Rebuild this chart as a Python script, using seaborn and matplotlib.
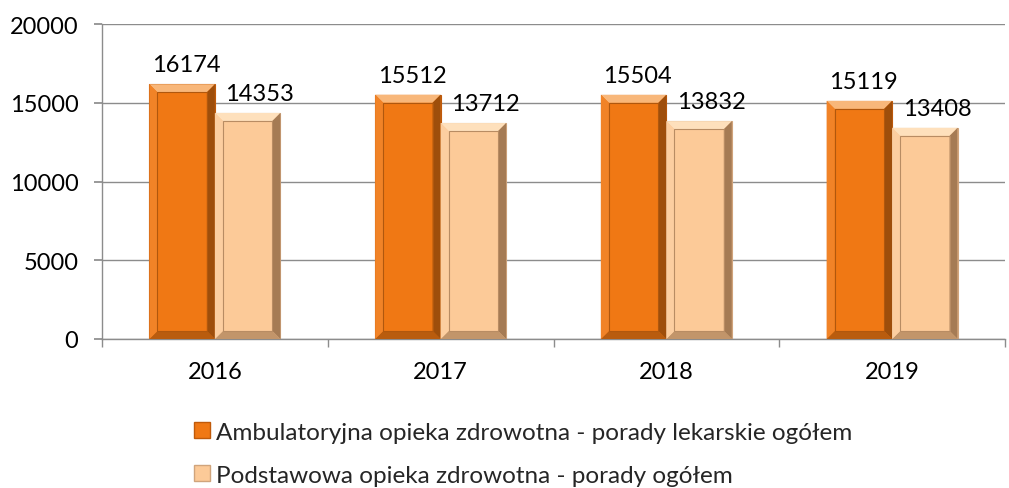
import pandas as pd
import matplotlib
matplotlib.use("Agg")
import matplotlib.pyplot as plt
from matplotlib.patches import Polygon, Patch
from matplotlib.colors import to_rgb
import seaborn as sns

years = ["2016", "2017", "2018", "2019"]
ambulatoryjna = [16174, 15512, 15504, 15119]
podstawowa = [14353, 13712, 13832, 13408]
series_names = ["Ambulatoryjna opieka zdrowotna - porady lekarskie ogółem",
                "Podstawowa opieka zdrowotna - porady ogółem"]
colors = ["#F07814", "#FCCA98"]
edges = ["#C05A0A", "#D0A47C"]

df = pd.DataFrame({
    "rok": years * 2,
    "wartosc": ambulatoryjna + podstawowa,
    "seria": [series_names[0]] * len(years) + [series_names[1]] * len(years),
})


def mix(c, other, t):
    c = to_rgb(c)
    o = to_rgb(other)
    return tuple(a * (1 - t) + b * t for a, b in zip(c, o))


def add_bevel(ax, patch, base, d=8):
    # bevel facets, computed from the bar's own geometry
    (x0, y0), (x1, y1) = ax.transData.transform(
        [(patch.get_x(), patch.get_y()),
         (patch.get_x() + patch.get_width(), patch.get_y() + patch.get_height())])
    inv = ax.transData.inverted()
    outer = [(x0, y0), (x1, y0), (x1, y1), (x0, y1)]
    inner = [(x0 + d, y0 + d), (x1 - d, y0 + d), (x1 - d, y1 - d), (x0 + d, y1 - d)]
    facets = [
        ([outer[3], outer[2], inner[2], inner[3]], mix(base, "#FFF6E0", 0.5)),  # top
        ([outer[0], outer[1], inner[1], inner[0]], mix(base, "#3a1a00", 0.3)),  # bottom
        ([outer[0], outer[3], inner[3], inner[0]], mix(base, "white", 0.08)),  # left
        ([outer[1], outer[2], inner[2], inner[1]], mix(base, "#3a1a00", 0.45)),  # right
    ]
    for pts, col in facets:
        ax.add_patch(Polygon(inv.transform(pts), closed=True, facecolor=col,
                             edgecolor="none", zorder=3))
    ax.add_patch(Polygon(inv.transform(inner), closed=True, facecolor="none",
                         edgecolor=mix(base, "#3a1a00", 0.35), linewidth=0.8, zorder=3))


sns.set_theme(style="white")
plt.rcParams["font.family"] = ["Lato", "DejaVu Sans"]

fig = plt.figure(figsize=(10.09, 4.89), dpi=100)
ax = fig.add_axes([102 / 1009, 1 - 340 / 489, (1005 - 102) / 1009, 315 / 489])

sns.barplot(data=df, x="rok", y="wartosc", hue="seria", palette=colors,
            saturation=1, width=0.58, ax=ax, legend=False, zorder=2)

ax.set_ylim(0, 20000)
ax.set_xlim(-0.5, len(years) - 0.5)
ax.set_yticks(range(0, 20001, 5000))
ax.yaxis.grid(True, color="#8C8C8C", linewidth=1)
ax.set_axisbelow(True)
ax.set_xlabel("")
ax.set_ylabel("")

for s in ["top", "right"]:
    ax.spines[s].set_visible(False)
for s in ["left", "bottom"]:
    ax.spines[s].set_color("#8C8C8C")
    ax.spines[s].set_linewidth(1)

ax.set_xticks([i - 0.5 for i in range(len(years) + 1)], minor=True)
ax.tick_params(axis="x", which="major", length=0, pad=16, labelsize=17, labelcolor="black")
ax.tick_params(axis="x", which="minor", length=6, color="#8C8C8C", direction="out", bottom=True)
ax.tick_params(axis="y", length=6, color="#8C8C8C", direction="out", left=True,
               pad=11, labelsize=17, labelcolor="black")

label_shift = [4, 12]
for container, base, edge, shift in zip(ax.containers, colors, edges, label_shift):
    for bar in container:
        bar.set_edgecolor(edge)
        bar.set_linewidth(0.8)
        add_bevel(ax, bar, base)
    for bar, v in zip(container, container.datavalues):
        ax.annotate(str(int(v)), (bar.get_x() + bar.get_width() / 2, bar.get_height()),
                    xytext=(shift, 9), textcoords="offset pixels",
                    ha="center", va="bottom", fontsize=17, color="black")

handles = [Patch(facecolor=c, edgecolor=e) for c, e in zip(colors, edges)]
fig.legend(handles, series_names, loc="upper left", bbox_to_anchor=(184 / 1009, 1 - 413 / 489),
           frameon=False, fontsize=17.5, handlelength=0.65, handleheight=0.65,
           handletextpad=0.25, labelspacing=0.9, borderaxespad=0)

fig.savefig("out.png", dpi=100)
